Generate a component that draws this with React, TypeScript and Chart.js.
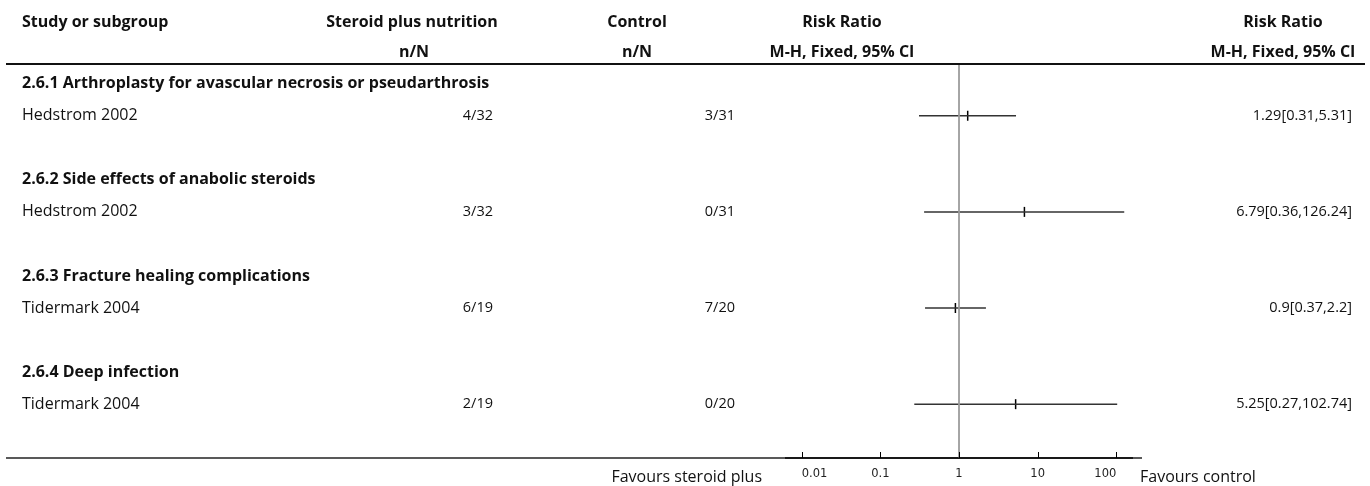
import { useEffect, useRef } from 'react';
import { Chart, registerables } from 'chart.js';

Chart.register(...registerables);

const subgroups = [
  '2.6.1 Arthroplasty for avascular necrosis or pseudarthrosis',
  '2.6.2 Side effects of anabolic steroids',
  '2.6.3 Fracture healing complications',
  '2.6.4 Deep infection',
];
const studies = ['Hedstrom 2002', 'Hedstrom 2002', 'Tidermark 2004', 'Tidermark 2004'];
const treatmentCounts = ['4/32', '3/32', '6/19', '2/19'];
const controlCounts = ['3/31', '0/31', '7/20', '0/20'];
const riskRatios = [1.29, 6.79, 0.9, 5.25];
const ciLower = [0.31, 0.36, 0.37, 0.27];
const ciUpper = [5.31, 126.24, 2.2, 102.74];
const ciLabels = ['1.29[0.31,5.31]', '6.79[0.36,126.24]', '0.9[0.37,2.2]', '5.25[0.27,102.74]'];
const tickValues = [0.01, 0.1, 1, 10, 100];
const headerTop = ['Study or subgroup', 'Steroid plus nutrition', 'Control', 'Risk Ratio', 'Risk Ratio'];
const headerBottom = ['', 'n/N', 'n/N', 'M-H, Fixed, 95% CI', 'M-H, Fixed, 95% CI'];
const favourLabels = ['Favours steroid plus', 'Favours control'];

const FONT = '"Open Sans", "Noto Sans", sans-serif';
const Y_MIN = -0.615;
const Y_MAX = 11.68;
const subgroupRow = (i: number) => i * 3;
const studyRow = (i: number) => i * 3 + 1;

const tablePlugin = {
  id: 'forestTable',
  afterDraw(chart: any) {
    const { ctx, chartArea, scales } = chart;
    const xs = scales.x;
    const ys = scales.y;
    ctx.save();
    // header rule
    ctx.strokeStyle = '#111';
    ctx.lineWidth = 2;
    ctx.beginPath();
    ctx.moveTo(6, chartArea.top);
    ctx.lineTo(1365, chartArea.top);
    ctx.stroke();
    // bottom rule
    ctx.lineWidth = 1.5;
    ctx.strokeStyle = '#222';
    ctx.beginPath();
    ctx.moveTo(6, chartArea.bottom);
    ctx.lineTo(1142, chartArea.bottom);
    ctx.stroke();
    // inner tick marks
    ctx.lineWidth = 1;
    ctx.strokeStyle = '#000';
    tickValues.forEach((v) => {
      const px = Math.round(xs.getPixelForValue(v)) + 0.5;
      ctx.beginPath();
      ctx.moveTo(px, chartArea.bottom);
      ctx.lineTo(px, chartArea.bottom - 6);
      ctx.stroke();
    });

    ctx.fillStyle = '#111';
    ctx.textBaseline = 'middle';
    // headers
    const headerX = [22, 412, 637, 842, 1283];
    ctx.font = `bold 16px ${FONT}`;
    headerTop.forEach((t, i) => {
      ctx.textAlign = i === 0 ? 'left' : 'center';
      ctx.fillText(t, headerX[i], 22);
    });
    headerBottom.forEach((t, i) => {
      if (!t) return;
      ctx.textAlign = 'center';
      ctx.fillText(t, i === 1 ? 414 : headerX[i], 52);
    });
    // subgroup titles
    ctx.font = `bold 16px ${FONT}`;
    subgroups.forEach((t, i) => {
      ctx.textAlign = 'left';
      ctx.fillText(t, 22, ys.getPixelForValue(subgroupRow(i)));
    });
    // study rows
    studies.forEach((t, i) => {
      const py = ys.getPixelForValue(studyRow(i));
      ctx.font = `16px ${FONT}`;
      ctx.textAlign = 'left';
      ctx.fillText(t, 22, py);
      ctx.font = `14.5px ${FONT}`;
      ctx.textAlign = 'right';
      ctx.fillText(treatmentCounts[i], 493, py);
      ctx.fillText(controlCounts[i], 735, py);
      ctx.fillText(ciLabels[i], 1352, py);
    });
    // favours labels
    ctx.font = `16px ${FONT}`;
    ctx.textAlign = 'right';
    ctx.fillText(favourLabels[0], 762, chartArea.bottom + 19);
    ctx.textAlign = 'left';
    ctx.fillText(favourLabels[1], 1140, chartArea.bottom + 19);
    ctx.restore();
  },
};

export default function App() {
  const ref = useRef<HTMLCanvasElement | null>(null);
  useEffect(() => {
    document.body.style.margin = '0';
    const canvas = ref.current;
    if (!canvas) return;
    const ciDatasets = studies.map((_, i) => ({
      type: 'line' as const,
      data: [
        { x: ciLower[i], y: studyRow(i) },
        { x: ciUpper[i], y: studyRow(i) },
      ],
      borderColor: '#333',
      borderWidth: 1.5,
      pointRadius: 0,
      showLine: true,
    }));
    const chart = new Chart(canvas, {
      type: 'scatter',
      data: {
        datasets: [
          {
            type: 'line',
            data: [
              { x: 1, y: Y_MIN },
              { x: 1, y: Y_MAX },
            ],
            borderColor: '#999',
            borderWidth: 1,
            pointRadius: 0,
            showLine: true,
          } as any,
          ...ciDatasets,
          {
            type: 'scatter',
            data: riskRatios.map((v, i) => ({ x: v, y: studyRow(i) })),
            pointStyle: 'line',
            rotation: 90,
            pointRadius: 5,
            borderColor: '#000',
            backgroundColor: '#000',
            borderWidth: 1.5,
          } as any,
        ],
      },
      options: {
        responsive: false,
        animation: false,
        events: [],
        layout: { padding: { left: 786, right: 238, top: 64, bottom: 0 } },
        plugins: { legend: { display: false }, tooltip: { enabled: false } },
        scales: {
          x: {
            type: 'logarithmic',
            position: 'bottom',
            min: Math.pow(10, -2.2),
            max: Math.pow(10, 2.2),
            afterBuildTicks: (scale: any) => {
              scale.ticks = tickValues.map((v) => ({ value: v }));
            },
            afterFit: (scale: any) => {
              scale.height = 28;
            },
            grid: { display: false, drawTicks: false },
            border: { display: true, color: '#000', width: 2 },
            ticks: {
              autoSkip: false,
              maxRotation: 0,
              align: 'inner',
              padding: 9,
              color: '#222',
              font: { family: '"DejaVu Sans", sans-serif', size: 11.5 },
              callback: (v: any) => String(v),
            },
          },
          y: {
            type: 'linear',
            display: false,
            reverse: true,
            min: Y_MIN,
            max: Y_MAX,
          },
        },
      },
      plugins: [tablePlugin],
    } as any);
    return () => chart.destroy();
  }, []);
  return (
    <div style={{ width: 1370, height: 486 }}>
      <canvas ref={ref} width={1370} height={486} />
    </div>
  );
}
